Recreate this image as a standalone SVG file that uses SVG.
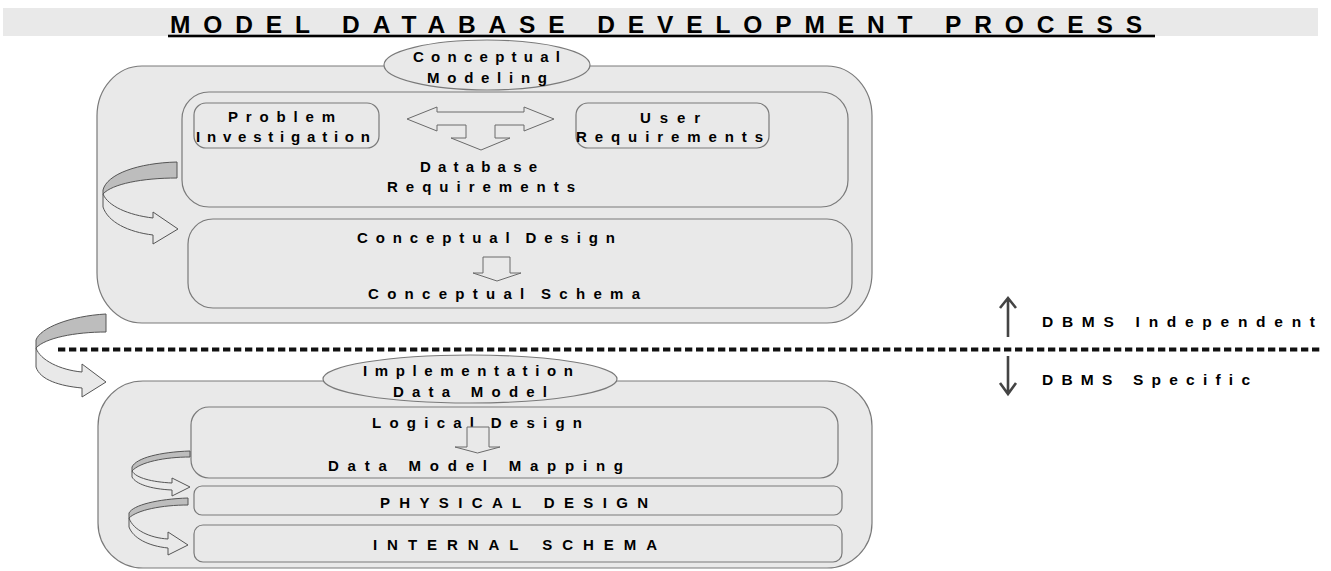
<svg xmlns="http://www.w3.org/2000/svg" width="1331" height="571" viewBox="0 0 1331 571">
<defs>
<style>
.t{font-family:"Liberation Sans",Arial,sans-serif;font-weight:bold;fill:#000;}
.b{font-size:15px;}
.ws{word-spacing:-4px;}
.box{fill:#e9e9e9;stroke:#7a7a7a;stroke-width:1.2;}
.dark{fill:#bdbdbd;stroke:#555;stroke-width:1;}
.light{fill:#e9e9e9;stroke:#555;stroke-width:1;}
.blk{fill:#e9e9e9;stroke:#6a6a6a;stroke-width:1;}
.dir{fill:none;stroke:#444;stroke-width:2.6;}
</style>
</defs>
<rect width="1331" height="571" fill="#fff"/>
<g id="title">
<rect x="3" y="8" width="1315" height="28" fill="#e9e9e9"/>
<text class="t" x="170" y="32.5" font-size="24.5" textLength="972" lengthAdjust="spacing">MODEL DATABASE DEVELOPMENT PROCESS</text>
<rect x="168" y="34.7" width="987" height="2.6" fill="#000"/>
</g>
<g id="conceptual-modeling">
<rect class="box" x="97" y="66" width="775" height="257" rx="45" ry="50"/>
<ellipse class="box" cx="487" cy="65" rx="103" ry="25"/>
<text class="t b" x="413" y="62" textLength="147" lengthAdjust="spacing">Conceptual</text>
<text class="t b" x="427" y="83" textLength="120" lengthAdjust="spacing">Modeling</text>
</g>
<g id="requirements-area">
<rect class="box" x="182" y="92" width="666" height="115" rx="27" ry="27"/>
<text class="t b" x="420" y="172" textLength="117" lengthAdjust="spacing">Database</text>
<text class="t b" x="387" y="192" textLength="188" lengthAdjust="spacing">Requirements</text>
</g>
<g id="problem-investigation">
<rect class="box" x="194" y="103" width="185" height="45" rx="12" ry="12"/>
<text class="t b" x="228" y="122" textLength="107" lengthAdjust="spacing">Problem</text>
<text class="t b" x="196" y="142" textLength="174" lengthAdjust="spacing">Investigation</text>
</g>
<g id="user-requirements">
<rect class="box" x="576" y="103" width="193" height="45" rx="12" ry="12"/>
<text class="t b" x="640" y="123" textLength="60" lengthAdjust="spacing">User</text>
<text class="t b" x="576" y="142" textLength="187" lengthAdjust="spacing">Requirements</text>
</g>
<g id="conceptual-design">
<rect class="box" x="188" y="219" width="664" height="89" rx="25" ry="25"/>
<text class="t b ws" x="357" y="243" textLength="258" lengthAdjust="spacing">Conceptual Design</text>
<text class="t b ws" x="368" y="299" textLength="272" lengthAdjust="spacing">Conceptual Schema</text>
</g>
<g id="implementation-data-model">
<rect class="box" x="98" y="381" width="774" height="187" rx="45" ry="45"/>
<ellipse class="box" cx="470" cy="379" rx="147" ry="24"/>
<text class="t b" x="363" y="376" textLength="210" lengthAdjust="spacing">Implementation</text>
<text class="t b" x="393" y="397" textLength="154" lengthAdjust="spacing">Data Model</text>
</g>
<g id="logical-design">
<rect class="box" x="191" y="407" width="647" height="71" rx="18" ry="18"/>
<text class="t b ws" x="372" y="428" textLength="210" lengthAdjust="spacing">Logical Design</text>
<text class="t b" x="328" y="471" textLength="295" lengthAdjust="spacing">Data Model Mapping</text>
</g>
<g id="physical-design">
<rect class="box" x="194" y="486" width="648" height="29" rx="8" ry="8"/>
<text class="t b" x="380" y="508" textLength="268" lengthAdjust="spacing">PHYSICAL DESIGN</text>
</g>
<g id="internal-schema">
<rect class="box" x="194" y="525" width="648" height="37" rx="9" ry="9"/>
<text class="t b" x="373" y="550" textLength="284" lengthAdjust="spacing">INTERNAL SCHEMA</text>
</g>
<g id="dbms-labels">
<text class="t" font-size="15.5" x="1042" y="327" textLength="273" lengthAdjust="spacing">DBMS Independent</text>
<text class="t" font-size="15.5" x="1042" y="385" textLength="208" lengthAdjust="spacing">DBMS Specific</text>
</g>
<g id="connectors">
<polygon class="blk" points="407,119 437,107 437,112 524,112 524,107 554,119 524,131 524,125 495,125 495,138 510,138 481,150 451,138 466,138 466,125 437,125 437,131"/>
<polygon class="blk" points="483,257 510,257 510,273 521,273 497,281 473,273 483,273"/>
<polygon class="blk" points="467,427 489,427 489,447 500,447 477.5,453 455,447 467,447"/>
<path class="dark" d="M177,162 C138,163 107,174 103,190 L103,194 C112,184 142,178 177,178 Z"/>
<path class="light" d="M103,194 L103,207 C108,222 128,232 153,235 L153,244 L178,229 L153,212 L153,218 C128,215 108,206 103,194 Z"/>
<path class="dark" d="M106,314 C70,316 40,328 36,340 L36,348 C45,338 75,332 106,332 Z"/>
<path class="light" d="M36,348 L36,367 C40,380 60,386 82,388 L82,397 L106,382 L82,364 L82,372 C60,370 40,360 36,348 Z"/>
<path class="dark" d="M190,451 C160,452 136,458 132,467 L132,471 C140,462 165,457 190,457 Z"/>
<path class="light" d="M132,471 L132,477 C136,484 150,489 172,490 L172,496 L190,487 L172,478 L172,483 C152,482 136,478 132,471 Z"/>
<path class="dark" d="M188,498 C158,499 133,505 129,513 L129,518 C137,510 162,505 188,505 Z"/>
<path class="light" d="M129,518 L129,527 C133,538 148,546 168,548 L168,555 L188,545 L168,532 L168,539 C150,538 133,530 129,518 Z"/>
<line x1="58" y1="349.5" x2="1320" y2="349.5" stroke="#111" stroke-width="4" stroke-dasharray="7.3 3.7"/>
<path class="dir" d="M1008,337 L1008,299 M1000,308 L1008,298 L1016,308"/>
<path class="dir" d="M1008,356 L1008,393 M1000,383 L1008,394 L1016,383"/>
</g>
</svg>
